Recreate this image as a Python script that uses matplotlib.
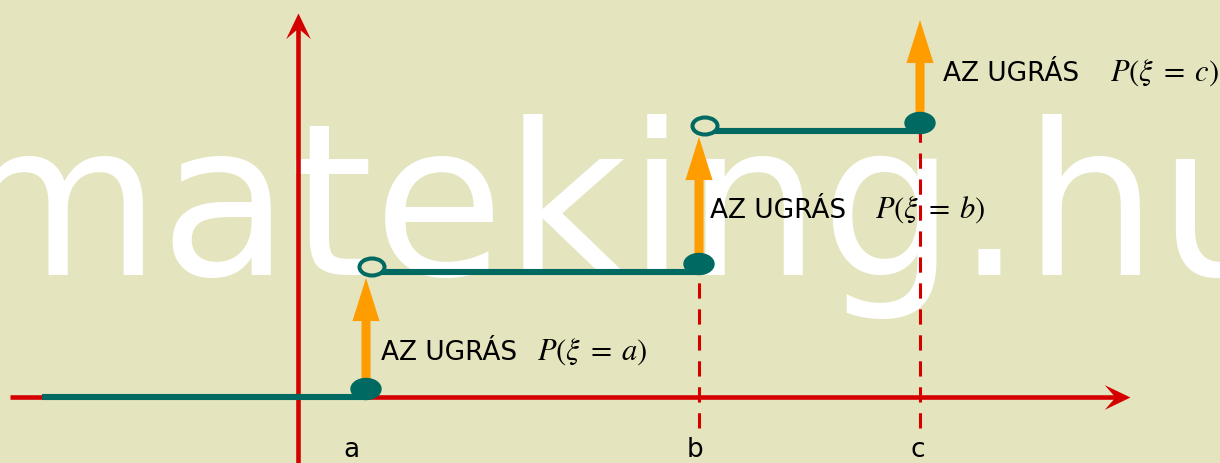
import numpy as np
import matplotlib
matplotlib.use('agg')
import matplotlib.pyplot as plt
from matplotlib.patches import Ellipse, FancyArrowPatch
from matplotlib.path import Path

# jump points of the distribution function (axis units, 1 unit = 100 px)
jump_names = ['a', 'b', 'c']
jump_x = [0.68, 4.01, 6.22]
# level of F before and after each jump
level_before = [0.0, 1.25, 2.66]
level_after = [1.25, 2.66, 3.83]
jump_text = 'AZ UGRÁS'
jump_probs = [r'$P(\xi\;=\;a)$', r'$P(\xi\;=\;b)$', r'$P(\xi\;=\;c)$']

bg = '#E4E4BE'
teal = '#006961'
orange = '#FF9C00'
red = '#D40000'

plt.rcParams['font.family'] = ['DejaVu Sans']
plt.rcParams['mathtext.fontset'] = 'stix'

fig = plt.figure(figsize=(12.2, 4.63), dpi=100)
fig.patch.set_facecolor(bg)
ax = fig.add_axes([0, 0, 1, 1])
ax.set_facecolor(bg)
ax.set_xlim(-2.98, 9.22)
ax.set_ylim(-0.66, 3.97)
ax.axis('off')

# watermark
ax.text(-0.46 - 2.98, 1.22, 'mateking.hu', fontsize=153, color='white',
        family=['DejaVu Sans'], va='baseline', ha='left', zorder=0)

# axes with notched heads
head = Path([(0, 0), (-1, 0.48), (-0.58, 0), (-1, -0.48), (0, 0)],
            [Path.MOVETO, Path.LINETO, Path.LINETO, Path.LINETO, Path.CLOSEPOLY])
head_up = Path(np.column_stack([head.vertices[:, 1], head.vertices[:, 0]]), head.codes)
ax.plot([-2.88, 8.2], [0, 0], color=red, lw=3.3, zorder=1, solid_capstyle='butt')
ax.plot([8.32], [0], marker=head, markersize=37, color=red, zorder=1, mew=0)
ax.plot([0, 0], [-0.7, 3.7], color=red, lw=3.3, zorder=1, solid_capstyle='butt')
ax.plot([0], [3.84], marker=head_up, markersize=37, color=red, zorder=1, mew=0)

# dashed guides under b and c
for x, lv in zip(jump_x[1:], level_before[1:]):
    ax.plot([x, x], [-0.31, lv], color=red, lw=2.2, ls=(0, (5, 3.5)), zorder=1)

# steps
ax.plot([-2.56, jump_x[0]], [0, 0], color=teal, lw=4.4, zorder=2, solid_capstyle='butt')
for i in range(len(jump_x) - 1):
    ax.plot([jump_x[i], jump_x[i + 1]], [level_after[i], level_after[i]],
            color=teal, lw=4.4, zorder=2, solid_capstyle='butt')

# jump arrows
for x, lo, hi in zip(jump_x, level_before, level_after):
    arr = FancyArrowPatch((x, lo + 0.05), (x, hi - 0.06),
                          arrowstyle='simple,head_length=31,head_width=19.5,tail_width=6.5',
                          mutation_scale=1, shrinkA=0, shrinkB=0, color=orange, lw=0, zorder=3)
    ax.add_patch(arr)

# filled and open dots
for i, (x, lo) in enumerate(zip(jump_x, level_before)):
    ax.add_patch(Ellipse((x, lo + 0.08), 0.30, 0.21, color=teal, zorder=4))
    if i < len(jump_x) - 1:
        ax.add_patch(Ellipse((x + 0.06, level_after[i] + 0.05), 0.25, 0.17,
                             facecolor=bg, edgecolor=teal, lw=2.9, zorder=4))

# labels on the x axis
label_dx = [-0.15, -0.04, -0.02]
for x, name, dx in zip(jump_x, jump_names, label_dx):
    ax.text(x + dx, -0.53, name, fontsize=19, ha='center', va='center', zorder=5)

# jump annotations
text_dx = [0.15, 0.11, 0.23]
prob_dx = [1.71, 1.76, 1.90]
text_y = [0.37, 1.79, 3.16]
for x, p, dx, pdx, ty in zip(jump_x, jump_probs, text_dx, prob_dx, text_y):
    ax.text(x + dx, ty, jump_text, fontsize=19, ha='left', va='baseline', zorder=5)
    ax.text(x + pdx, ty, p, fontsize=22, ha='left', va='baseline', zorder=5)

plt.savefig('out.png', dpi=100, facecolor=bg)
